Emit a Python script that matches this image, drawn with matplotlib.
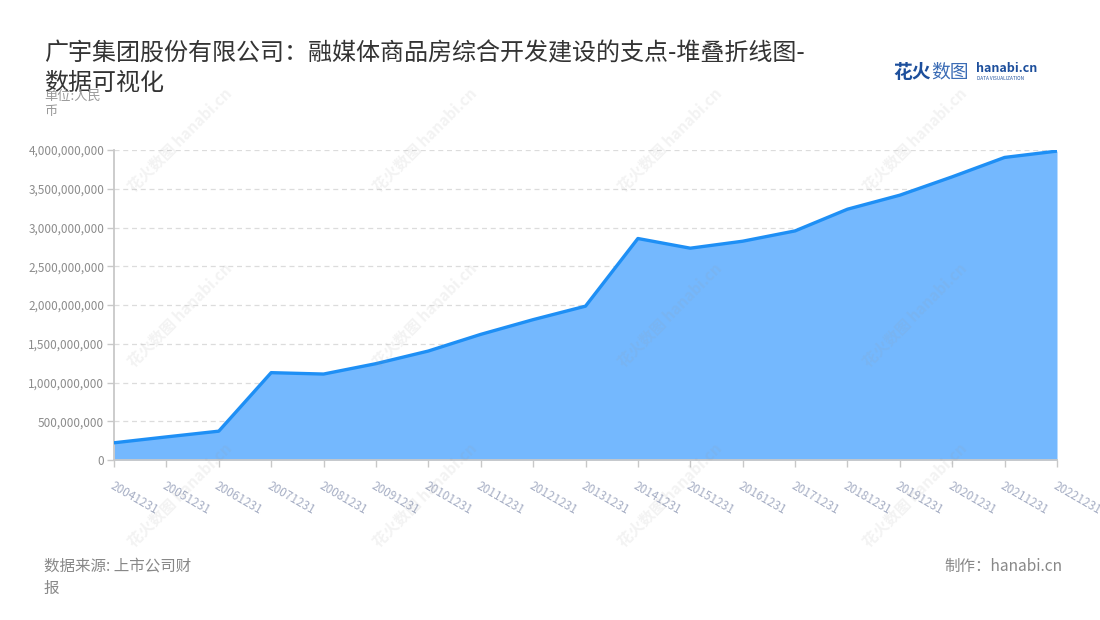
import matplotlib
matplotlib.use("Agg")
import matplotlib.pyplot as plt
from matplotlib.ticker import FuncFormatter

plt.rcParams['font.family'] = ['Noto Sans CJK SC', 'DejaVu Sans']

# 数据 (单位: 人民币)
dates = ['20041231', '20051231', '20061231', '20071231', '20081231', '20091231',
         '20101231', '20111231', '20121231', '20131231', '20141231', '20151231',
         '20161231', '20171231', '20181231', '20191231', '20201231', '20211231',
         '20221231']
values = [222e6, 298e6, 372e6, 1127e6, 1109e6, 1243e6,
          1406e6, 1621e6, 1811e6, 1985e6, 2858e6, 2733e6,
          2823e6, 2956e6, 3236e6, 3417e6, 3654e6, 3904e6,
          3986e6]
yticks = [0, 5e8, 1e9, 1.5e9, 2e9, 2.5e9, 3e9, 3.5e9, 4e9]

title = '广宇集团股份有限公司：融媒体商品房综合开发建设的支点-堆叠折线图-\n数据可视化'
unit = '单位:人民\n币'
source = '数据来源: 上市公司财\n报'
credit = '制作：hanabi.cn'

fig = plt.figure(figsize=(11, 6.2), dpi=100)
ax = fig.add_axes([114 / 1100, 160 / 620, 943 / 1100, 310 / 620])

x = list(range(len(dates)))
ax.fill_between(x, values, 0, color='#74b8fe', linewidth=0, zorder=2)
ax.plot(x, values, color='#1e8ff5', linewidth=2.4, zorder=3, solid_joinstyle='round')

ax.set_xlim(0, len(dates) - 1)
ax.set_ylim(0, 4e9)
ax.set_yticks(yticks)
ax.yaxis.set_major_formatter(FuncFormatter(lambda v, p: f'{int(v):,}'))
ax.grid(axis='y', color='#dcdcdc', linestyle=(0, (4, 3)), linewidth=0.9, zorder=1)
ax.set_axisbelow(True)

ax.set_xticks(x)
ax.set_xticklabels(dates, rotation=-30, ha='left', va='top', rotation_mode='anchor',
                   fontsize=8.5, color='#a6aec4')
ax.tick_params(axis='x', length=5, color='#c8c8c8', width=1, pad=9)
ax.tick_params(axis='y', length=5, color='#c8c8c8', width=1, pad=2,
               labelsize=8.5, labelcolor='#8c8c8c')

for side in ['top', 'right']:
    ax.spines[side].set_visible(False)
for side in ['left', 'bottom']:
    ax.spines[side].set_color('#c8c8c8')
    ax.spines[side].set_linewidth(1.3)

# 标题 / 单位
fig.text(44 / 1100, 1 - 40 / 620, title, fontsize=17.3, color='#333333',
         va='top', ha='left', linespacing=1.22)
fig.text(44 / 1100, 1 - 90 / 620, unit, fontsize=9.5, color='#999999',
         va='top', ha='left', linespacing=1.25)

# 底部说明
fig.text(44 / 1100, 1 - 558 / 620, source, fontsize=11.2, color='#888888',
         va='top', ha='left', linespacing=1.35)
fig.text(1062 / 1100, 1 - 558 / 620, credit, fontsize=11.2, color='#888888',
         va='top', ha='right')

# logo
fig.text(893 / 1100, 1 - 72 / 620, '花火', fontsize=13.5, fontweight='bold',
         color='#1d4f9c', va='center', ha='left')
fig.text(931 / 1100, 1 - 72 / 620, '数图', fontsize=13.5, color='#3b6cb5',
         va='center', ha='left')
fig.text(976 / 1100, 1 - 69 / 620, 'hanabi.cn', fontsize=9, fontweight='bold',
         color='#1d4f9c', va='center', ha='left')
fig.text(977 / 1100, 1 - 79 / 620, 'DATA VISUALIZATION', fontsize=3.4,
         color='#1d4f9c', va='center', ha='left')

# 水印
for wx in [180, 425, 670, 915]:
    for wy in [140, 315, 495]:
        fig.text(wx / 1100, 1 - wy / 620, '花火数图 hanabi.cn', fontsize=11,
                 color='#9a9a9a', alpha=0.12, rotation=45, ha='center',
                 va='center', fontweight='bold', zorder=10)

fig.savefig('out.png', dpi=100)
